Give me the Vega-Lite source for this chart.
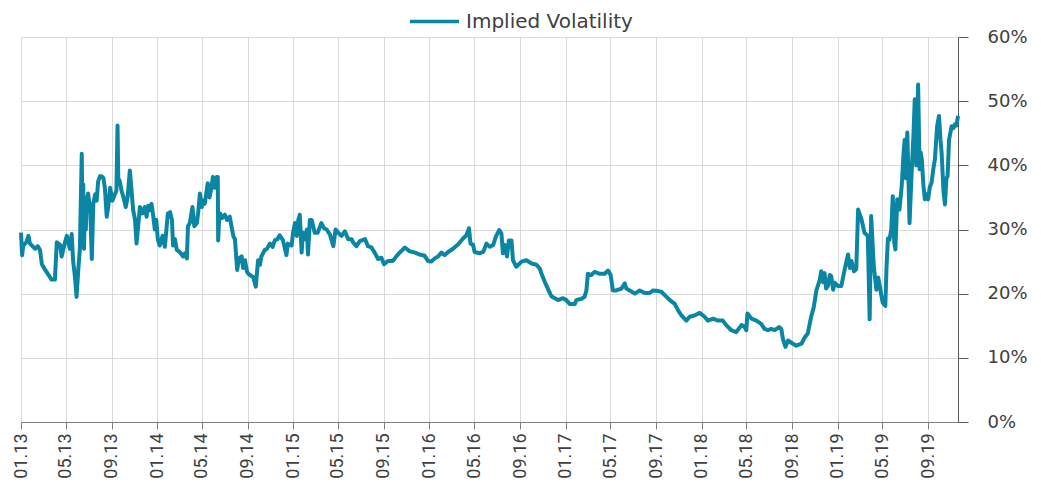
{
  "$schema": "https://vega.github.io/schema/vega-lite/v6.json",
  "width": 937,
  "height": 385,
  "autosize": {"type": "none"},
  "padding": {"left": 21, "top": 37, "right": 83, "bottom": 62},
  "background": "white",
  "config": {"view": {"stroke": null}},
  "data": {"values": [
    {"date":"2013-01-01","iv":29.5},{"date":"2013-01-04","iv":26.0},{"date":"2013-01-07","iv":27.5},{"date":"2013-01-15","iv":28.0},{"date":"2013-01-21","iv":29.0},{"date":"2013-01-25","iv":27.8},{"date":"2013-02-08","iv":27.0},{"date":"2013-02-15","iv":27.4},{"date":"2013-02-21","iv":26.8},{"date":"2013-02-26","iv":24.6},{"date":"2013-03-06","iv":23.8},{"date":"2013-03-15","iv":23.0},{"date":"2013-03-24","iv":22.2},{"date":"2013-04-02","iv":22.2},{"date":"2013-04-07","iv":28.0},{"date":"2013-04-16","iv":27.6},{"date":"2013-04-20","iv":25.8},{"date":"2013-04-29","iv":28.0},{"date":"2013-05-04","iv":29.0},{"date":"2013-05-12","iv":27.0},{"date":"2013-05-17","iv":29.3},{"date":"2013-05-21","iv":25.0},{"date":"2013-05-26","iv":22.5},{"date":"2013-05-30","iv":19.5},{"date":"2013-06-04","iv":24.0},{"date":"2013-06-08","iv":27.0},{"date":"2013-06-13","iv":41.8},{"date":"2013-06-15","iv":31.0},{"date":"2013-06-17","iv":37.0},{"date":"2013-06-19","iv":27.0},{"date":"2013-06-22","iv":35.0},{"date":"2013-06-24","iv":30.0},{"date":"2013-06-26","iv":34.0},{"date":"2013-06-30","iv":35.6},{"date":"2013-07-06","iv":33.0},{"date":"2013-07-10","iv":25.4},{"date":"2013-07-14","iv":34.0},{"date":"2013-07-19","iv":35.5},{"date":"2013-07-23","iv":34.5},{"date":"2013-07-27","iv":37.5},{"date":"2013-08-01","iv":38.3},{"date":"2013-08-05","iv":38.3},{"date":"2013-08-10","iv":38.0},{"date":"2013-08-14","iv":36.5},{"date":"2013-08-19","iv":32.0},{"date":"2013-08-23","iv":33.5},{"date":"2013-08-28","iv":36.5},{"date":"2013-09-03","iv":34.5},{"date":"2013-09-10","iv":35.5},{"date":"2013-09-14","iv":36.0},{"date":"2013-09-17","iv":46.2},{"date":"2013-09-19","iv":38.0},{"date":"2013-09-23","iv":37.5},{"date":"2013-09-28","iv":36.0},{"date":"2013-10-03","iv":35.0},{"date":"2013-10-09","iv":33.5},{"date":"2013-10-14","iv":35.0},{"date":"2013-10-20","iv":39.2},{"date":"2013-10-24","iv":36.5},{"date":"2013-10-29","iv":33.0},{"date":"2013-11-03","iv":31.5},{"date":"2013-11-07","iv":27.8},{"date":"2013-11-12","iv":31.0},{"date":"2013-11-16","iv":33.5},{"date":"2013-11-23","iv":32.5},{"date":"2013-11-29","iv":33.5},{"date":"2013-12-04","iv":32.0},{"date":"2013-12-08","iv":33.7},{"date":"2013-12-13","iv":33.0},{"date":"2013-12-17","iv":34.0},{"date":"2013-12-21","iv":32.5},{"date":"2013-12-26","iv":30.0},{"date":"2013-12-30","iv":31.5},
    {"date":"2014-01-03","iv":28.5},{"date":"2014-01-08","iv":27.5},{"date":"2014-01-16","iv":29.0},{"date":"2014-01-22","iv":27.3},{"date":"2014-01-30","iv":32.5},{"date":"2014-02-05","iv":32.7},{"date":"2014-02-10","iv":31.5},{"date":"2014-02-13","iv":27.5},{"date":"2014-02-18","iv":28.5},{"date":"2014-02-23","iv":26.8},{"date":"2014-03-03","iv":26.5},{"date":"2014-03-12","iv":25.8},{"date":"2014-03-17","iv":26.3},{"date":"2014-03-22","iv":25.5},{"date":"2014-03-25","iv":30.5},{"date":"2014-03-30","iv":31.0},{"date":"2014-04-06","iv":33.5},{"date":"2014-04-11","iv":30.5},{"date":"2014-04-18","iv":31.0},{"date":"2014-04-22","iv":33.0},{"date":"2014-04-26","iv":35.6},{"date":"2014-05-01","iv":33.5},{"date":"2014-05-04","iv":34.5},{"date":"2014-05-09","iv":34.0},{"date":"2014-05-17","iv":37.2},{"date":"2014-05-22","iv":35.0},{"date":"2014-05-27","iv":36.6},{"date":"2014-05-31","iv":38.2},{"date":"2014-06-05","iv":36.5},{"date":"2014-06-10","iv":38.2},{"date":"2014-06-13","iv":38.2},{"date":"2014-06-14","iv":28.3},{"date":"2014-06-16","iv":31.0},{"date":"2014-06-19","iv":32.5},{"date":"2014-06-25","iv":31.8},{"date":"2014-07-02","iv":32.3},{"date":"2014-07-08","iv":31.5},{"date":"2014-07-15","iv":32.0},{"date":"2014-07-20","iv":30.4},{"date":"2014-07-25","iv":28.9},{"date":"2014-07-29","iv":28.5},{"date":"2014-08-04","iv":23.7},{"date":"2014-08-09","iv":25.5},{"date":"2014-08-16","iv":25.8},{"date":"2014-08-20","iv":24.0},{"date":"2014-08-25","iv":25.2},{"date":"2014-08-30","iv":23.5},{"date":"2014-09-03","iv":23.1},{"date":"2014-09-10","iv":22.8},{"date":"2014-09-16","iv":22.6},{"date":"2014-09-23","iv":21.1},{"date":"2014-09-29","iv":25.2},{"date":"2014-10-04","iv":24.5},{"date":"2014-10-08","iv":25.8},{"date":"2014-10-17","iv":26.8},{"date":"2014-10-23","iv":27.0},{"date":"2014-10-31","iv":27.8},{"date":"2014-11-07","iv":27.3},{"date":"2014-11-13","iv":28.3},{"date":"2014-11-20","iv":28.5},{"date":"2014-11-26","iv":29.1},{"date":"2014-12-05","iv":28.3},{"date":"2014-12-14","iv":26.0},{"date":"2014-12-18","iv":27.8},{"date":"2014-12-23","iv":27.6},{"date":"2014-12-28","iv":27.5},
    {"date":"2015-01-01","iv":29.5},{"date":"2015-01-06","iv":31.0},{"date":"2015-01-11","iv":29.0},{"date":"2015-01-15","iv":31.5},{"date":"2015-01-19","iv":32.3},{"date":"2015-01-24","iv":26.4},{"date":"2015-01-27","iv":29.5},{"date":"2015-02-02","iv":28.5},{"date":"2015-02-07","iv":30.0},{"date":"2015-02-10","iv":26.1},{"date":"2015-02-15","iv":31.5},{"date":"2015-02-20","iv":31.5},{"date":"2015-02-28","iv":29.5},{"date":"2015-03-08","iv":29.5},{"date":"2015-03-18","iv":31.0},{"date":"2015-03-25","iv":30.2},{"date":"2015-04-01","iv":30.0},{"date":"2015-04-10","iv":29.2},{"date":"2015-04-19","iv":27.4},{"date":"2015-04-25","iv":30.0},{"date":"2015-05-02","iv":29.5},{"date":"2015-05-11","iv":29.0},{"date":"2015-05-20","iv":29.7},{"date":"2015-05-29","iv":28.5},{"date":"2015-06-07","iv":28.5},{"date":"2015-06-11","iv":28.0},{"date":"2015-06-20","iv":27.4},{"date":"2015-06-29","iv":28.2},{"date":"2015-07-13","iv":28.5},{"date":"2015-07-21","iv":27.4},{"date":"2015-07-30","iv":27.2},{"date":"2015-08-08","iv":26.4},{"date":"2015-08-17","iv":25.4},{"date":"2015-08-26","iv":25.6},{"date":"2015-09-02","iv":24.6},{"date":"2015-09-13","iv":25.1},{"date":"2015-09-26","iv":25.1},{"date":"2015-10-06","iv":25.9},{"date":"2015-10-14","iv":26.4},{"date":"2015-10-28","iv":27.2},{"date":"2015-11-10","iv":26.6},{"date":"2015-11-24","iv":26.4},{"date":"2015-12-07","iv":26.1},{"date":"2015-12-20","iv":25.9},{"date":"2015-12-29","iv":25.1},
    {"date":"2016-01-07","iv":25.0},{"date":"2016-01-16","iv":25.5},{"date":"2016-01-25","iv":25.8},{"date":"2016-02-03","iv":26.4},{"date":"2016-02-12","iv":26.0},{"date":"2016-02-21","iv":26.5},{"date":"2016-03-05","iv":27.0},{"date":"2016-03-19","iv":27.7},{"date":"2016-04-01","iv":28.6},{"date":"2016-04-10","iv":29.1},{"date":"2016-04-17","iv":30.2},{"date":"2016-04-21","iv":27.8},{"date":"2016-04-28","iv":27.6},{"date":"2016-05-02","iv":26.5},{"date":"2016-05-16","iv":26.3},{"date":"2016-05-25","iv":26.5},{"date":"2016-06-03","iv":27.8},{"date":"2016-06-12","iv":27.3},{"date":"2016-06-21","iv":27.6},{"date":"2016-06-28","iv":28.9},{"date":"2016-07-07","iv":29.9},{"date":"2016-07-13","iv":29.4},{"date":"2016-07-17","iv":26.3},{"date":"2016-07-22","iv":27.6},{"date":"2016-07-28","iv":25.8},{"date":"2016-08-02","iv":28.3},{"date":"2016-08-09","iv":28.3},{"date":"2016-08-13","iv":25.2},{"date":"2016-08-22","iv":24.2},{"date":"2016-09-05","iv":25.0},{"date":"2016-09-18","iv":25.2},{"date":"2016-10-02","iv":24.7},{"date":"2016-10-15","iv":24.5},{"date":"2016-10-24","iv":23.9},{"date":"2016-10-28","iv":23.2},{"date":"2016-11-06","iv":21.9},{"date":"2016-11-16","iv":20.6},{"date":"2016-11-24","iv":19.6},{"date":"2016-12-03","iv":19.3},{"date":"2016-12-12","iv":19.0},{"date":"2016-12-25","iv":19.3},
    {"date":"2017-01-03","iv":19.0},{"date":"2017-01-12","iv":18.4},{"date":"2017-01-26","iv":18.4},{"date":"2017-01-30","iv":19.0},{"date":"2017-02-13","iv":19.2},{"date":"2017-02-21","iv":19.5},{"date":"2017-02-26","iv":20.5},{"date":"2017-03-02","iv":23.1},{"date":"2017-03-11","iv":22.9},{"date":"2017-03-20","iv":23.4},{"date":"2017-04-03","iv":23.1},{"date":"2017-04-16","iv":23.1},{"date":"2017-04-25","iv":23.6},{"date":"2017-05-02","iv":22.9},{"date":"2017-05-08","iv":20.5},{"date":"2017-05-17","iv":20.5},{"date":"2017-05-31","iv":20.8},{"date":"2017-06-09","iv":21.6},{"date":"2017-06-13","iv":20.8},{"date":"2017-06-22","iv":20.5},{"date":"2017-07-06","iv":20.0},{"date":"2017-07-19","iv":20.5},{"date":"2017-08-02","iv":20.1},{"date":"2017-08-15","iv":20.1},{"date":"2017-08-24","iv":20.5},{"date":"2017-09-06","iv":20.4},{"date":"2017-09-15","iv":20.3},{"date":"2017-09-29","iv":19.5},{"date":"2017-10-08","iv":19.0},{"date":"2017-10-21","iv":18.4},{"date":"2017-10-30","iv":17.4},{"date":"2017-11-08","iv":16.6},{"date":"2017-11-21","iv":15.8},{"date":"2017-11-30","iv":16.4},{"date":"2017-12-13","iv":16.6},{"date":"2017-12-27","iv":17.0},
    {"date":"2018-01-09","iv":16.4},{"date":"2018-01-18","iv":15.8},{"date":"2018-02-01","iv":16.1},{"date":"2018-02-14","iv":15.8},{"date":"2018-02-27","iv":15.8},{"date":"2018-03-08","iv":15.1},{"date":"2018-03-22","iv":14.3},{"date":"2018-04-04","iv":14.0},{"date":"2018-04-18","iv":15.1},{"date":"2018-04-27","iv":14.8},{"date":"2018-05-01","iv":14.3},{"date":"2018-05-04","iv":16.9},{"date":"2018-05-15","iv":16.1},{"date":"2018-05-28","iv":15.8},{"date":"2018-06-10","iv":15.3},{"date":"2018-06-19","iv":14.5},{"date":"2018-06-28","iv":14.3},{"date":"2018-07-07","iv":14.5},{"date":"2018-07-16","iv":14.3},{"date":"2018-07-28","iv":14.8},{"date":"2018-08-03","iv":14.5},{"date":"2018-08-07","iv":13.0},{"date":"2018-08-14","iv":11.7},{"date":"2018-08-21","iv":12.7},{"date":"2018-09-03","iv":12.2},{"date":"2018-09-12","iv":11.9},{"date":"2018-09-26","iv":12.2},{"date":"2018-10-05","iv":13.2},{"date":"2018-10-13","iv":13.8},{"date":"2018-10-22","iv":16.4},{"date":"2018-10-29","iv":17.9},{"date":"2018-11-05","iv":20.5},{"date":"2018-11-14","iv":22.1},{"date":"2018-11-18","iv":23.5},{"date":"2018-11-23","iv":21.8},{"date":"2018-11-27","iv":23.2},{"date":"2018-12-01","iv":20.8},{"date":"2018-12-06","iv":21.2},{"date":"2018-12-11","iv":22.9},{"date":"2018-12-15","iv":22.7},{"date":"2018-12-20","iv":20.6},{"date":"2018-12-24","iv":21.7},
    {"date":"2019-01-02","iv":21.2},{"date":"2019-01-11","iv":21.2},{"date":"2019-01-20","iv":23.8},{"date":"2019-01-29","iv":26.1},{"date":"2019-02-03","iv":24.0},{"date":"2019-02-07","iv":25.1},{"date":"2019-02-14","iv":23.5},{"date":"2019-02-20","iv":23.8},{"date":"2019-02-25","iv":33.1},{"date":"2019-03-06","iv":31.6},{"date":"2019-03-14","iv":29.5},{"date":"2019-03-23","iv":29.0},{"date":"2019-03-28","iv":16.0},{"date":"2019-04-01","iv":32.1},{"date":"2019-04-08","iv":24.3},{"date":"2019-04-15","iv":20.6},{"date":"2019-04-20","iv":22.5},{"date":"2019-04-24","iv":21.2},{"date":"2019-04-28","iv":19.8},{"date":"2019-05-02","iv":18.6},{"date":"2019-05-09","iv":18.1},{"date":"2019-05-12","iv":23.8},{"date":"2019-05-16","iv":28.6},{"date":"2019-05-20","iv":28.4},{"date":"2019-05-25","iv":30.0},{"date":"2019-05-29","iv":35.2},{"date":"2019-06-02","iv":28.0},{"date":"2019-06-05","iv":26.9},{"date":"2019-06-10","iv":34.7},{"date":"2019-06-16","iv":33.1},{"date":"2019-06-22","iv":36.8},{"date":"2019-06-27","iv":42.0},{"date":"2019-06-30","iv":44.0},{"date":"2019-07-03","iv":38.0},{"date":"2019-07-07","iv":45.1},{"date":"2019-07-13","iv":31.0},{"date":"2019-07-19","iv":39.4},{"date":"2019-07-23","iv":44.0},{"date":"2019-07-27","iv":50.3},{"date":"2019-07-31","iv":40.0},{"date":"2019-08-05","iv":52.6},{"date":"2019-08-09","iv":39.4},{"date":"2019-08-12","iv":42.0},{"date":"2019-08-15","iv":40.9},{"date":"2019-08-19","iv":37.0},{"date":"2019-08-23","iv":34.7},{"date":"2019-08-28","iv":35.5},{"date":"2019-09-01","iv":34.7},{"date":"2019-09-05","iv":36.5},{"date":"2019-09-10","iv":37.3},{"date":"2019-09-15","iv":39.5},{"date":"2019-09-19","iv":40.9},{"date":"2019-09-25","iv":46.1},{"date":"2019-09-30","iv":47.7},{"date":"2019-10-04","iv":44.0},{"date":"2019-10-07","iv":42.0},{"date":"2019-10-12","iv":36.0},{"date":"2019-10-16","iv":33.9},{"date":"2019-10-20","iv":38.0},{"date":"2019-10-23","iv":38.3},{"date":"2019-10-27","iv":44.0},{"date":"2019-11-03","iv":46.1},{"date":"2019-11-08","iv":45.8},{"date":"2019-11-12","iv":46.4},{"date":"2019-11-16","iv":46.2},{"date":"2019-11-20","iv":47.7}
  ]},
  "mark": {"type": "line", "strokeWidth": 4, "strokeJoin": "round"},
  "encoding": {
    "x": {
      "field": "date", "type": "temporal",
      "scale": {"type": "utc", "domain": [{"year": 2013, "month": 1, "date": 1, "utc": true}, {"year": 2019, "month": 11, "date": 20, "utc": true}]},
      "axis": {
        "title": null,
        "tickCount": {"interval": "month", "step": 4},
        "labelExpr": "utcFormat(datum.value, '%m.%y')",
        "labelAngle": 270, "labelAlign": "right", "labelBaseline": "middle",
        "labelFont": "Roboto", "labelFontSize": 18, "labelColor": "#404040",
        "labelPadding": 4, "labelOverlap": false, "labelFlush": false,
        "tickSize": 7, "tickColor": "#7f7f7f", "domainColor": "#7f7f7f",
        "grid": true, "gridColor": "#d9d9d9"
      }
    },
    "y": {
      "field": "iv", "type": "quantitative",
      "scale": {"domain": [0, 60]},
      "axis": {
        "orient": "right", "title": null,
        "values": [0, 10, 20, 30, 40, 50, 60],
        "labelExpr": "datum.value + '%'",
        "labelFont": "DejaVu Sans", "labelFontSize": 18, "labelColor": "#404040",
        "labelAlign": "left", "labelPadding": 19,
        "tickSize": 10, "tickColor": "#595959", "domainColor": "#595959",
        "grid": true, "gridColor": "#d9d9d9"
      }
    },
    "color": {
      "datum": "Implied Volatility",
      "scale": {"range": ["#0a86a4"]},
      "legend": {
        "orient": "none", "legendX": 387, "legendY": -42, "title": null,
        "symbolType": "stroke", "symbolSize": 2400, "symbolStrokeWidth": 3.5,
        "labelFont": "DejaVu Sans", "labelFontSize": 20, "labelColor": "#404040",
        "labelLimit": 400,
        "padding": 0, "labelOffset": 5, "direction": "horizontal"
      }
    }
  }
}
